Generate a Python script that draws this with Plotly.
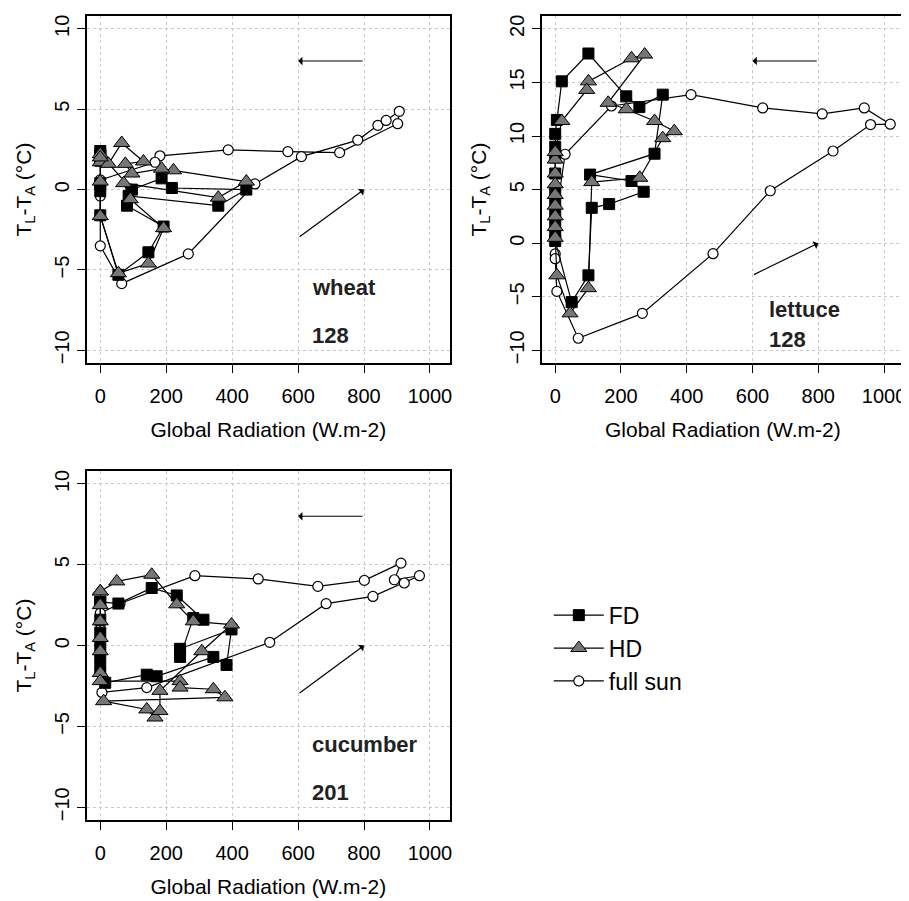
import plotly.graph_objects as go

# ---------------- data ----------------
wheat_fd_x = [0, 0, 0, 0, 0, 0, 55, 146, 192, 81, 86, 358, 443, 217, 186, 96, 0]
wheat_fd_y = [2.4, 2.1, 1.8, 0.4, -0.1, -1.6, -5.3, -3.9, -2.3, -1.0, -0.4, -1.0, 0.0, 0.1, 0.7, 0.0, 2.2]
wheat_hd_x = [0, 0, 0, 0, 55, 146, 192, 91, 71, 358, 443, 222, 186, 96, 76, 131, 65, 25, 0]
wheat_hd_y = [2.2, 1.7, 0.5, -1.65, -5.2, -4.6, -2.4, -0.6, 0.4, -0.5, 0.5, 1.2, 1.3, 1.0, 1.6, 1.75, 2.9, 1.6, 2.0]
wheat_sun_x = [0, 0, 0, 65, 267, 469, 610, 781, 842, 867, 907, 902, 726, 569, 388, 181, 166, 0]
wheat_sun_y = [0.5, -0.4, -3.5, -5.85, -4.0, 0.35, 2.05, 3.08, 4.0, 4.3, 4.87, 4.1, 2.3, 2.36, 2.47, 2.1, 1.7, 0.6]

lettuce_fd_x = [0, 0, 0, 0, 0, 0, 0, 0, 50, 101, 111, 164, 269, 232, 106, 302, 327, 256, 216, 101, 20, 5, 0, 0]
lettuce_fd_y = [8.0, 6.5, 5.0, 4.0, 3.0, 2.0, 1.0, 0.2, -5.5, -3.0, 3.3, 3.65, 4.8, 5.8, 6.4, 8.35, 13.86, 12.7, 13.7, 17.7, 15.1, 11.5, 10.2, 9.0]
lettuce_hd_x = [0, 0, 0, 0, 0, 0, 0, 0, 5, 45, 101, 111, 257, 327, 362, 302, 216, 161, 272, 232, 101, 96, 20, 0]
lettuce_hd_y = [7.8, 6.5, 5.5, 4.5, 3.5, 2.5, 1.5, 0.5, -3.0, -6.55, -4.2, 5.7, 6.1, 9.8, 10.45, 11.4, 12.5, 13.1, 17.6, 17.25, 15.1, 14.3, 11.4, 8.5]
lettuce_sun_x = [0, 0, 5, 70, 265, 480, 654, 845, 959, 1019, 940, 812, 631, 413, 171, 30, 0]
lettuce_sun_y = [-1.0, -1.45, -4.5, -8.87, -6.55, -0.98, 4.89, 8.6, 11.07, 11.1, 12.62, 12.06, 12.62, 13.86, 12.8, 8.3, 2.0]

cucumber_fd_x = [0, 0, 0, 0, 0, 0, 15, 141, 171, 343, 383, 398, 242, 242, 282, 313, 232, 156, 55, 0]
cucumber_fd_y = [2.7, 1.6, 0.8, 0.0, -0.8, -1.5, -2.3, -1.8, -1.9, -0.7, -1.2, 1.0, -0.2, -0.7, 1.7, 1.6, 3.1, 3.56, 2.6, 2.7]
cucumber_hd_x = [0, 0, 0, 0, 0, 0, 0, 242, 242, 343, 378, 10, 141, 166, 181, 181, 308, 398, 282, 232, 156, 50, 0]
cucumber_hd_y = [3.35, 2.5, 1.5, 0.47, -0.35, -1.7, -2.2, -2.2, -2.6, -2.7, -3.2, -3.44, -3.95, -4.45, -4.05, -2.8, -0.35, 1.3, 1.5, 2.55, 4.38, 3.97, 3.35]
cucumber_sun_x = [0, 0, 5, 141, 514, 685, 827, 922, 968, 892, 912, 801, 660, 479, 287, 60, 0]
cucumber_sun_y = [1.0, -1.5, -2.9, -2.6, 0.2, 2.59, 3.04, 3.87, 4.32, 4.07, 5.1, 4.03, 3.66, 4.12, 4.32, 2.6, 2.0]

series_names = ["FD", "HD", "full sun"]
x_ticks = [0, 200, 400, 600, 800, 1000]
y_ticks_small = [-10, -5, 0, 5, 10]
y_ticks_lettuce = [-10, -5, 0, 5, 10, 15, 20]
panel_labels = [("wheat", "128"), ("lettuce", "128"), ("cucumber", "201")]

# ---------------- figure ----------------
FONT = "Liberation Sans, Arial, sans-serif"
OFF = 8                      # page body margin
W, H = 909 - OFF, 901 - OFF

def px_x(p):
    return (p - OFF) / W

def px_y(p):
    return 1 - (p - OFF) / H

fig = go.Figure()

panels = [
    dict(fd=(wheat_fd_x, wheat_fd_y), hd=(wheat_hd_x, wheat_hd_y), sun=(wheat_sun_x, wheat_sun_y)),
    dict(fd=(lettuce_fd_x, lettuce_fd_y), hd=(lettuce_hd_x, lettuce_hd_y), sun=(lettuce_sun_x, lettuce_sun_y)),
    dict(fd=(cucumber_fd_x, cucumber_fd_y), hd=(cucumber_hd_x, cucumber_hd_y), sun=(cucumber_sun_x, cucumber_sun_y)),
]

styles = {
    "sun": dict(symbol="circle", size=10, color="white", line=dict(color="black", width=1.2)),
    "fd": dict(symbol="square", size=11, color="black", line=dict(color="black", width=1)),
    "hd": dict(symbol="triangle-up", size=14, color="#767676", line=dict(color="black", width=1)),
}
names = {"fd": "FD", "hd": "HD", "sun": "full sun"}
legend_rank = {"fd": 1, "hd": 2, "sun": 3}

axis_suffix = ["", "2", "3"]
for i, p in enumerate(panels):
    for key in ["sun", "fd", "hd"]:
        xs, ys = p[key]
        fig.add_trace(go.Scatter(
            x=xs, y=ys, mode="lines+markers",
            line=dict(color="black", width=1.2),
            marker=styles[key],
            name=names[key],
            legendrank=legend_rank[key],
            showlegend=(i == 0),
            xaxis="x" + axis_suffix[i], yaxis="y" + axis_suffix[i],
        ))

domains = [
    dict(x=[px_x(87), px_x(451)], y=[px_y(363), px_y(15)]),
    dict(x=[px_x(543), px_x(906)], y=[px_y(363), px_y(15)]),
    dict(x=[px_x(87), px_x(451)], y=[px_y(821), px_y(471)]),
]
yranges = [[-10.8, 10.8], [-11.2, 21.2], [-10.8, 10.8]]
yticks = [y_ticks_small, y_ticks_lettuce, y_ticks_small]

common_axis = dict(
    showline=True, mirror=True, linecolor="black", linewidth=1.6,
    ticks="outside", ticklen=8, tickwidth=1.3, tickcolor="black",
    showgrid=True, gridcolor="#c8c8c8", griddash="dot", gridwidth=1,
    zeroline=False, tickfont=dict(family=FONT, size=20, color="black"),
)

layout_axes = {}
for i in range(3):
    s = axis_suffix[i]
    layout_axes["xaxis" + s] = dict(
        common_axis, domain=domains[i]["x"], range=[-40.8, 1060.8],
        tickvals=x_ticks, anchor="y" + s, ticklabelstandoff=6,
        title=dict(text="Global Radiation (W.m-2)", font=dict(family=FONT, size=21, color="black"), standoff=16),
    )
    layout_axes["yaxis" + s] = dict(
        common_axis, domain=domains[i]["y"], range=yranges[i],
        tickvals=yticks[i], tickangle=-90, anchor="x" + s,
        title=dict(text="T<sub>L</sub>-T<sub>A</sub> (°C)", font=dict(family=FONT, size=21, color="black"), standoff=14),
    )

fig.update_layout(**layout_axes)

annotations = []
arrow_y = [8, 17, 8]
for i in range(3):
    s = axis_suffix[i]
    xr, yr = "x" + s, "y" + s
    # afternoon arrow (leftwards)
    annotations.append(dict(x=600, y=arrow_y[i], ax=800, ay=arrow_y[i], xref=xr, yref=yr, axref=xr, ayref=yr,
                            showarrow=True, arrowhead=1, arrowsize=1.2, arrowwidth=1.2, arrowcolor="black", text=""))
    # morning arrow (up-right)
    annotations.append(dict(x=800, y=0, ax=600, ay=-3, xref=xr, yref=yr, axref=xr, ayref=yr,
                            showarrow=True, arrowhead=1, arrowsize=1.2, arrowwidth=1.2, arrowcolor="black", text=""))

label_pos = [(635, -6.1, -9.05), (644, -6.15, -9.0), (635, -6.1, -9.1)]
for i, (crop, num) in enumerate(panel_labels):
    s = axis_suffix[i]
    lx, ly1, ly2 = label_pos[i]
    annotations.append(dict(x=lx, y=ly1, xref="x" + s, yref="y" + s, text="<b>%s</b>" % crop, showarrow=False,
                            xanchor="left", yanchor="middle", font=dict(family=FONT, size=22, color="#222")))
    annotations.append(dict(x=lx, y=ly2, xref="x" + s, yref="y" + s, text="<b>%s</b>" % num, showarrow=False,
                            xanchor="left", yanchor="middle", font=dict(family=FONT, size=22, color="#222")))

fig.update_layout(
    width=W, height=H,
    margin=dict(l=0, r=0, t=0, b=0),
    paper_bgcolor="white", plot_bgcolor="white",
    font=dict(family=FONT, color="black"),
    annotations=annotations,
    legend=dict(x=px_x(550), y=px_y(594), xanchor="left", yanchor="top",
                font=dict(family=FONT, size=23, color="black"), bgcolor="rgba(0,0,0,0)",
                tracegroupgap=0, itemwidth=50),
)

fig.write_html("out.html")
